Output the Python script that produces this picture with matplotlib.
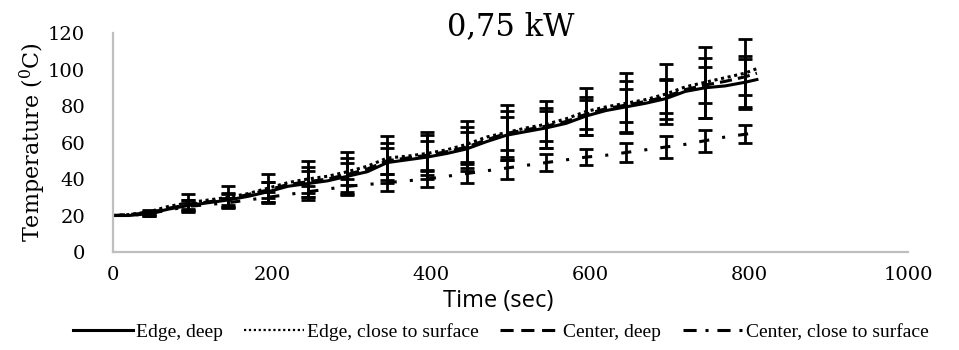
import matplotlib
matplotlib.use("Agg")
import matplotlib.pyplot as plt
from matplotlib.lines import Line2D

plt.rcParams['font.family'] = 'DejaVu Serif'
plt.rcParams['mathtext.fontset'] = 'dejavuserif'

# time (sec)
t = [0, 20, 45, 70, 95, 120, 145, 170, 195, 220, 245, 270, 295, 320, 345, 370, 395,
     420, 445, 470, 495, 520, 545, 570, 595, 620, 645, 670, 695, 720, 745, 770, 795, 810]

# temperatures (C)
edge_deep = [20, 20, 21, 23.5, 25.5, 27, 28.5, 30.5, 33, 36, 37.5, 39, 41.5, 44, 49, 50.5, 52,
             54, 56.5, 60.5, 64, 66, 68, 70.5, 74.5, 77.5, 79.5, 81.5, 84, 88, 90, 91, 93, 94.5]
edge_surf = [20, 20.5, 22, 25, 27, 28.5, 30, 32, 35, 38, 40, 41.5, 44, 47, 51.5, 52.5, 54,
             56, 59, 63, 65.5, 68, 70, 73, 77, 79.5, 81.5, 83.5, 86.5, 90.5, 93, 95.5, 98, 100.5]
center_deep = [20, 20.5, 21.5, 24, 26, 27.5, 29, 31.5, 34, 37, 38.5, 40, 42.5, 45.5, 50, 51.5, 53,
               55, 57.5, 61.5, 65, 67, 69, 71.5, 75.5, 78.5, 80.5, 82.5, 85, 89, 91.5, 93.5, 96, 98]
center_surf = [20, 20, 21, 23, 25, 26, 27, 28.5, 30, 31.5, 33, 34.5, 36, 37, 38, 39, 40,
               41.5, 43, 44.5, 46, 47.5, 49, 50.5, 52, 53, 54.5, 56, 57.5, 59, 61, 63, 64.5, 65.5]

# std. deviation at every 50 s (t = 45, 95, ... 795)
err_edge_deep = [1, 3, 4, 5.5, 9, 10, 11, 12, 12, 13.5, 11, 10.5, 14, 11, 16.5, 14.5]
err_edge_surf = [1, 5, 6, 7.5, 10, 11, 12, 12, 13, 15, 13, 13, 16.5, 16.5, 19.5, 18.5]
err_center_deep = [1, 2.5, 3, 4.5, 6, 6, 7, 8, 8, 9, 8, 8, 9, 9, 10, 10]
err_center_surf = [1, 2, 2.5, 3, 3, 4, 4.5, 4.5, 5, 6, 4.5, 4.5, 5, 6, 6, 5]

labels = ['Edge, deep', 'Edge, close to surface', 'Center, deep', 'Center, close to surface']

fig = plt.figure(figsize=(9.59, 3.5), dpi=100)
ax = fig.add_axes([0.1178, 0.28, 0.829, 0.6257])

styles = ['-', (0, (1, 1.2)), (0, (4, 2)), (0, (3.3, 4.3, 1, 4.3))]
series = [edge_deep, edge_surf, center_deep, center_surf]
errs = [err_edge_deep, err_edge_surf, err_center_deep, err_center_surf]

for y, e, ls in zip(series, errs, styles):
    ax.plot(t, y, color='black', lw=2.2, ls=ls)
    ax.errorbar(t[2::2], y[2::2], yerr=e, fmt='none', ecolor='black',
                elinewidth=2, capsize=5, capthick=2)

ax.set_xlim(0, 1000)
ax.set_ylim(0, 120)
ax.set_xticks(range(0, 1001, 200))
ax.set_yticks(range(0, 121, 20))
ax.tick_params(length=0, labelsize=14)
ax.tick_params(axis='y', pad=20)
ax.tick_params(axis='x', pad=10)
for s in ['top', 'right']:
    ax.spines[s].set_visible(False)
for s in ['left', 'bottom']:
    ax.spines[s].set_color('#bfbfbf')
    ax.spines[s].set_linewidth(1.6)

ax.set_title('0,75 kW', fontsize=22, y=0.99, pad=0)
ax.set_ylabel(r'Temperature ($^0$C)', fontsize=16)
ax.yaxis.set_label_coords(-0.082, 0.5)
ax.set_xlabel('Time (sec)', fontsize=17, family='Open Sans')
ax.xaxis.set_label_coords(0.484, -0.17)

handles = [Line2D([], [], color='black', lw=2.2, ls='-'),
           Line2D([], [], color='black', lw=1.6, ls=(0, (1, 1.2))),
           Line2D([], [], color='black', lw=2.2, ls=(0, (4.3, 2.5))),
           Line2D([], [], color='black', lw=2.2, ls=(0, (4.3, 2.9, 1, 2.9)))]
fig.legend(handles, labels, loc='center', bbox_to_anchor=(0.522, 0.051), ncol=4,
           frameon=False, prop={'family': 'Liberation Serif', 'size': 14},
           handlelength=3.1, handletextpad=0.15, columnspacing=1.1)

fig.savefig('out.png', dpi=100)
